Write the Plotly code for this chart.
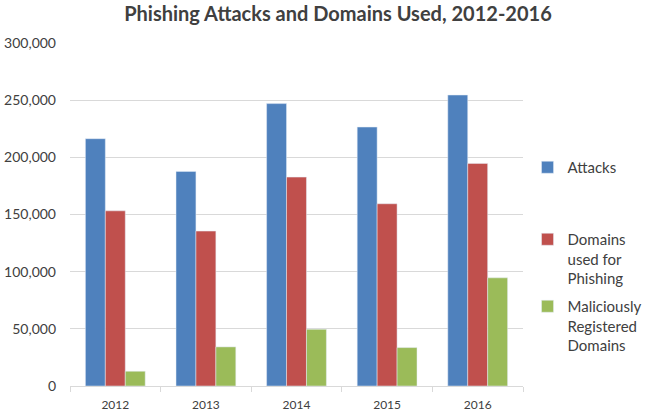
import plotly.graph_objects as go

years = ["2012", "2013", "2014", "2015", "2016"]
attacks = [216300, 187700, 247000, 226500, 254500]
domains = [153200, 135500, 182700, 159400, 194700]
malicious = [12900, 34200, 49600, 33600, 94600]

series_names = ["Attacks", "Domains<br>used for<br>Phishing", "Maliciously<br>Registered<br>Domains"]
colors = ["#4f81bd", "#c0504d", "#9bbb59"]
legends = ["legend2", "legend3", "legend4"]

fig = go.Figure()
for name, vals, col, lg in zip(series_names, [attacks, domains, malicious], colors, legends):
    fig.add_trace(go.Bar(x=years, y=vals, name=name, marker_color=col, legend=lg))

font = "Lato, 'Open Sans', sans-serif"
W, H = 650, 411
L, R, T, B = 70, 127, 43, 25
ph = H - T - B

def py(p):
    return (H - B - p) / ph

legend_common = dict(font=dict(family=font, size=15, color="#404040"), bgcolor="rgba(0,0,0,0)",
                     xanchor="left", yanchor="top", x=1.01, valign="top", itemclick=False)

fig.update_layout(
    width=W, height=H,
    margin=dict(l=L, r=R, t=T, b=B, autoexpand=False),
    paper_bgcolor="white", plot_bgcolor="white",
    barmode="group", bargap=0.34, bargroupgap=0,
    title=dict(text="<b>Phishing Attacks and Domains Used, 2012-2016</b>", x=0.52, xanchor="center",
               y=1 - 14 / H, yanchor="middle", font=dict(family=font, size=20, color="#404040")),
    font=dict(family=font, color="#404040"),
    xaxis=dict(showgrid=False, showline=True, linecolor="#d9d9d9", ticks="outside", tickson="boundaries",
               ticklen=5, tickcolor="#d9d9d9", tickfont=dict(size=12, color="#404040"),
               ticklabelstandoff=8),
    yaxis=dict(range=[0, 300000], dtick=50000, tickformat=",", gridcolor="#d9d9d9", gridwidth=1,
               zeroline=True, zerolinecolor="#d9d9d9", zerolinewidth=1, ticks="",
               tickfont=dict(size=14, color="#404040"), ticklabelstandoff=13),
    showlegend=True,
    legend2=dict(**legend_common, y=py(151)),
    legend3=dict(**legend_common, y=py(223)),
    legend4=dict(**legend_common, y=py(290)),
)

fig.write_html("out.html")
